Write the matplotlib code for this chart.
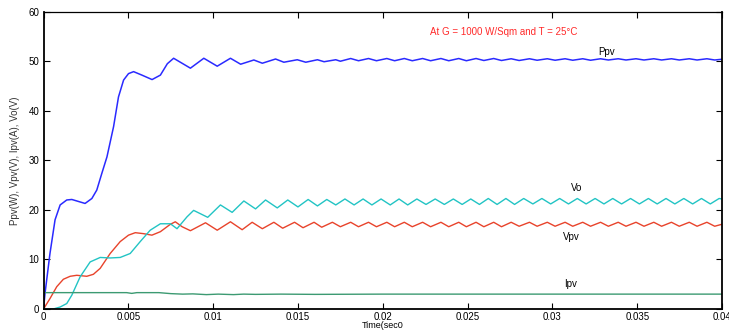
import matplotlib
matplotlib.use("Agg")
import matplotlib.pyplot as plt

# ==== data ====
ppv_t = [0, 0.00009, 0.00038, 0.00068, 0.00098, 0.00137, 0.00167, 0.00206, 0.00245, 0.00285,
         0.00314, 0.00344, 0.00374, 0.00413, 0.00442, 0.00472, 0.00501, 0.00531, 0.0058, 0.0064,
         0.00689, 0.0073, 0.00767, 0.00866, 0.00945, 0.01024, 0.01102, 0.01162, 0.0124, 0.0129,
         0.01368, 0.01417, 0.01496, 0.01546, 0.01615, 0.01654, 0.01723, 0.0175,
         0.01811, 0.01857, 0.01916, 0.01963, 0.02024, 0.0207, 0.02127, 0.02174, 0.02235, 0.02282,
         0.02343, 0.02389, 0.02448, 0.02493, 0.0255, 0.02596, 0.02654, 0.027, 0.02757, 0.02804,
         0.02865, 0.0291, 0.0297, 0.03016, 0.03075, 0.0312, 0.03179, 0.03225, 0.03284, 0.0333,
         0.03388, 0.03434, 0.03493, 0.0354, 0.03598, 0.03644, 0.03702, 0.03748, 0.03807, 0.03853,
         0.03911, 0.03957, 0.04]
ppv_v = [0, 3.2, 11.2, 18.0, 21.0, 22.0, 22.1, 21.7, 21.3, 22.3,
         24.0, 27.4, 30.7, 36.8, 42.8, 46.2, 47.5, 47.9, 47.2, 46.3,
         47.2, 49.5, 50.6, 48.6, 50.6, 49.0, 50.6, 49.4, 50.25, 49.6,
         50.45, 49.8, 50.3, 49.8, 50.3, 49.9, 50.3, 50.0,
         50.55, 50.1, 50.55, 50.1, 50.55, 50.1, 50.55, 50.1, 50.55, 50.1,
         50.55, 50.1, 50.55, 50.1, 50.55, 50.15, 50.55, 50.15, 50.5, 50.15,
         50.5, 50.2, 50.5, 50.2, 50.5, 50.2, 50.5, 50.2, 50.5, 50.25,
         50.5, 50.25, 50.5, 50.25, 50.5, 50.25, 50.5, 50.25, 50.5, 50.25,
         50.5, 50.25, 50.4]

vpv_t = [0, 0.00038, 0.00078, 0.00117, 0.00157, 0.00196, 0.00255, 0.00294, 0.00334, 0.00393,
         0.00452, 0.00501, 0.00541, 0.0059, 0.00639, 0.00689, 0.00748, 0.00777, 0.00817, 0.00866,
         0.00955, 0.01024, 0.01102, 0.01171,
         0.0123, 0.0129, 0.01358, 0.0141, 0.0148, 0.0153, 0.01595, 0.0164, 0.01703, 0.0175,
         0.01811, 0.01857, 0.01916, 0.01963, 0.02024, 0.0207, 0.02127, 0.02174, 0.02235, 0.02282,
         0.02343, 0.02389, 0.02448, 0.02493, 0.0255, 0.02596, 0.02654, 0.027, 0.02757, 0.02804,
         0.02865, 0.0291, 0.0297, 0.03016, 0.03075, 0.0312, 0.03179, 0.03225, 0.03284, 0.0333,
         0.03388, 0.03434, 0.03493, 0.0354, 0.03598, 0.03644, 0.03702, 0.03748, 0.03807, 0.03853,
         0.03911, 0.03957, 0.04]
vpv_v = [0, 2.1, 4.5, 6.0, 6.6, 6.8, 6.6, 7.0, 8.2, 11.2,
         13.6, 14.9, 15.4, 15.2, 14.9, 15.6, 17.1, 17.6, 16.6, 15.8,
         17.4, 15.9, 17.6, 16.0,
         17.5, 16.2, 17.5, 16.3, 17.5, 16.4, 17.5, 16.5, 17.5, 16.6,
         17.5, 16.6, 17.5, 16.6, 17.5, 16.6, 17.5, 16.6, 17.5, 16.6,
         17.5, 16.6, 17.5, 16.6, 17.5, 16.6, 17.5, 16.6, 17.5, 16.7,
         17.5, 16.7, 17.5, 16.7, 17.5, 16.7, 17.5, 16.7, 17.5, 16.7,
         17.5, 16.7, 17.5, 16.7, 17.5, 16.7, 17.5, 16.7, 17.5, 16.7,
         17.5, 16.7, 17.1]

vo_t = [0, 0.00058, 0.00098, 0.00137, 0.00167, 0.00216, 0.00275, 0.00334, 0.00393, 0.00452,
        0.00511, 0.0057, 0.00629, 0.00689, 0.00748, 0.00787, 0.00846, 0.00885, 0.00968, 0.01043,
        0.01112, 0.01181, 0.0125, 0.01309, 0.01378, 0.0144, 0.0150, 0.0156, 0.01615, 0.0167,
        0.01723, 0.01777, 0.01831, 0.01884, 0.01936, 0.0199, 0.02044, 0.02096, 0.02147, 0.02201,
        0.02255, 0.02309, 0.02363, 0.02416, 0.02468, 0.02519, 0.0257, 0.02622, 0.02674, 0.02726,
        0.02777, 0.02831, 0.02885, 0.02938, 0.0299, 0.03043, 0.03095, 0.03147, 0.03199, 0.03252,
        0.03304, 0.03356, 0.03408, 0.03461, 0.03513, 0.03566, 0.03618, 0.0367, 0.03722, 0.03775,
        0.03827, 0.03879, 0.03931, 0.03983, 0.04]
vo_v = [0, 0, 0.4, 1.1, 2.8, 6.5, 9.5, 10.4, 10.3, 10.4,
        11.2, 13.6, 15.9, 17.2, 17.2, 16.2, 18.6, 19.9, 18.5, 21.0,
        19.5, 21.8, 20.2, 22.0, 20.4, 22.0, 20.6, 22.1, 20.8, 22.1,
        21.0, 22.2, 21.0, 22.2, 21.0, 22.2, 21.0, 22.2, 21.0, 22.2,
        21.1, 22.2, 21.1, 22.2, 21.1, 22.2, 21.1, 22.3, 21.1, 22.3,
        21.1, 22.3, 21.2, 22.3, 21.2, 22.3, 21.2, 22.3, 21.2, 22.3,
        21.2, 22.3, 21.2, 22.3, 21.2, 22.3, 21.2, 22.3, 21.2, 22.3,
        21.2, 22.3, 21.2, 22.3, 22.2]

ipv_t = [0, 0.0049, 0.0052, 0.0055, 0.0068, 0.0075, 0.0082, 0.0088, 0.0096, 0.0103,
         0.0112, 0.0118, 0.0125, 0.014, 0.016, 0.02, 0.04]
ipv_v = [3.3, 3.3, 3.15, 3.3, 3.3, 3.1, 3.0, 3.05, 2.9, 3.0,
         2.9, 3.0, 2.95, 3.0, 2.95, 3.0, 3.0]

FONT = "Liberation Sans"


def main():
    fig = plt.figure(figsize=(7.29, 3.31), dpi=100)
    ax = fig.add_axes([0.0597, 0.0665, 0.9307, 0.8982])

    ax.plot(ppv_t, ppv_v, color="#2a2aff", lw=1.1)
    ax.plot(vpv_t, vpv_v, color="#e8432b", lw=1.0)
    ax.plot(vo_t, vo_v, color="#22c4c4", lw=1.0)
    ax.plot(ipv_t, ipv_v, color="#3c9a72", lw=1.0)

    ax.set_xlim(0, 0.04)
    ax.set_ylim(0, 60)
    ax.set_xticks([0, 0.005, 0.01, 0.015, 0.02, 0.025, 0.03, 0.035, 0.04])
    ax.set_xticklabels(["0", "0.005", "0.01", "0.015", "0.02", "0.025", "0.03", "0.035", "0.04"])
    ax.set_yticks(range(0, 61, 10))
    ax.tick_params(direction="in", length=4, width=0.8, top=True, right=True,
                   labelsize=7, pad=3)
    ax.tick_params(axis="x", pad=2)
    for lab in ax.get_xticklabels() + ax.get_yticklabels():
        lab.set_fontfamily(FONT)
    for side in ["left", "bottom", "right"]:
        ax.spines[side].set_linewidth(1.3)
    ax.spines["top"].set_linewidth(0.9)

    ax.set_xlabel("Time(sec0", fontsize=6.5, family=FONT, labelpad=-0.4)
    ax.set_ylabel("Ppv(W), Vpv(V), Ipv(A), Vo(V)", fontsize=7, family=FONT, labelpad=6,
                  color="#333333")

    ax.text(0.0228, 55.9, "At G = 1000 W/Sqm and T = 25°C", color="#ff2a2a",
            fontsize=7, family=FONT, va="center")
    ax.text(0.0327, 51.9, "Ppv", fontsize=7, family=FONT, va="center")
    ax.text(0.0311, 24.4, "Vo", fontsize=7, family=FONT, va="center")
    ax.text(0.0306, 14.5, "Vpv", fontsize=7, family=FONT, va="center")
    ax.text(0.0307, 5.0, "Ipv", fontsize=7, family=FONT, va="center")

    fig.savefig("out.png", dpi=100)


if __name__ == "__main__":
    main()
